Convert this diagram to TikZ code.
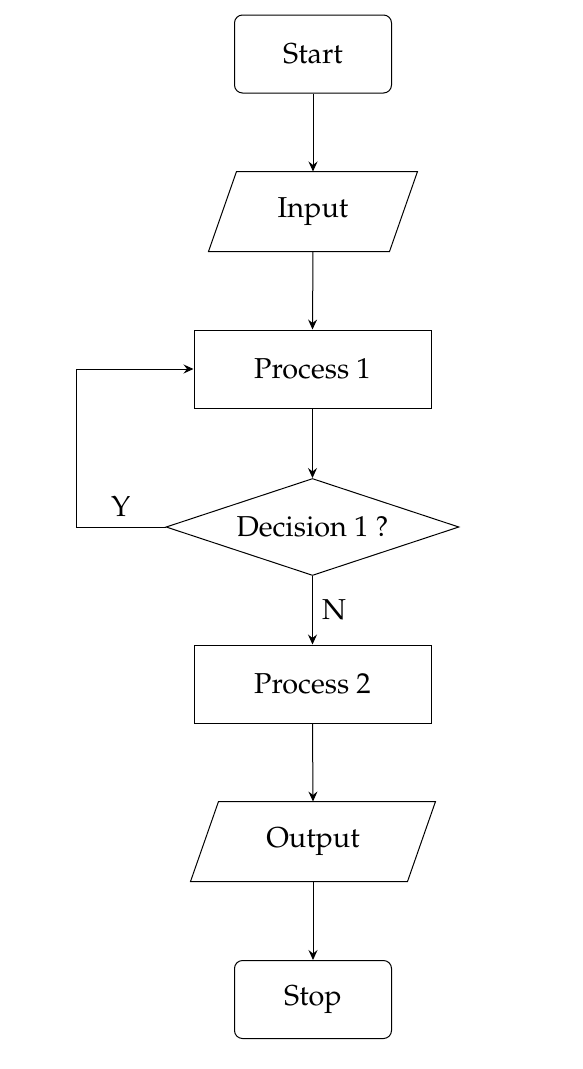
\documentclass[tikz,border=0pt]{standalone}
\usepackage[T1]{fontenc}
\usepackage{mathpazo}
\usetikzlibrary{arrows.meta,shapes.geometric}
\tikzset{
  base/.style={line width=1pt, inner sep=0pt, font=\fontsize{28.8}{34}\selectfont},
  term/.style={base, draw, rounded corners=8pt, minimum width=157pt, minimum height=78pt},
  proc/.style={base, draw, minimum width=237pt, minimum height=78pt},
  io/.style={base, minimum width=208pt, minimum height=79pt},
  dec/.style={base, draw, diamond, aspect=3, minimum width=293pt, minimum height=97pt},
  arr/.style={line width=1pt, -{Stealth[length=10pt,width=9pt,inset=3.5pt]}},
  lbl/.style={font=\fontsize{28.8}{34}\selectfont, inner sep=0pt}
}
\begin{document}
\begin{tikzpicture}[x=1pt,y=-1pt]
\useasboundingbox (0,0) rectangle (582,1069);
\node[term] (start) at (313,54) {Start};
\node[io] (in) at (313,211.5) {Input};
\draw[line width=1pt] ([xshift=28pt]in.north west) -- (in.north east) -- ([xshift=-28pt]in.south east) -- (in.south west) -- cycle;
\node[proc] (p1) at (312.5,369) {Process 1};
\node[dec] (d1) at (312.5,527) {Decision 1 ?};
\node[proc] (p2) at (312.5,684) {Process 2};
\node[io, minimum width=244pt] (out) at (313,841.5) {Output};
\draw[line width=1pt] ([xshift=28pt]out.north west) -- (out.north east) -- ([xshift=-28pt]out.south east) -- (out.south west) -- cycle;
\node[term] (stop) at (313,999.5) {Stop};
\coordinate (lp) at (76,527);
\draw[arr] (start.south) -- (in.north);
\draw[arr] (in.south) -- (p1.north);
\draw[arr] (p1.south) -- (d1.north);
\draw[arr] (d1.south) -- node[lbl, right=9pt, pos=0.5] (nl) {N} (p2.north);
\draw[arr] (p2.south) -- (out.north);
\draw[arr] (out.south) -- (stop.north);
\draw[arr] (d1.west) -- node[lbl, above=10pt, pos=0.5] (yl) {Y} (lp) |- (p1.west);
\end{tikzpicture}
\end{document}
